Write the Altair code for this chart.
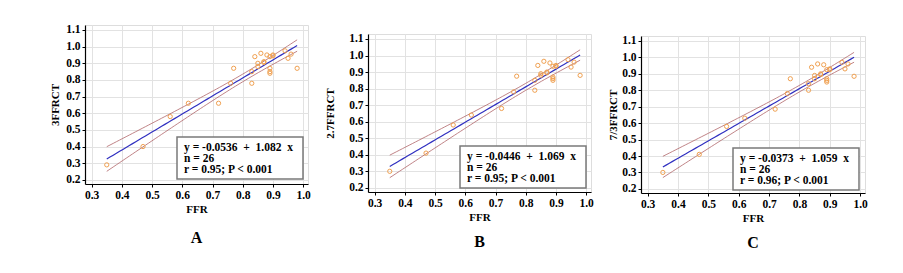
import altair as alt
import numpy as np
import pandas as pd

# ---------------- data ----------------
FFR = [0.35, 0.47, 0.56, 0.62, 0.72, 0.76, 0.77, 0.83, 0.83, 0.84, 0.85, 0.85, 0.86,
       0.87, 0.87, 0.88, 0.89, 0.89, 0.89, 0.89, 0.90, 0.90, 0.94, 0.95, 0.96, 0.98]
FFRCT_3 = [0.29, 0.40, 0.58, 0.66, 0.66, 0.78, 0.87, 0.78, 0.85, 0.94, 0.90, 0.88, 0.96,
           0.91, 0.905, 0.95, 0.94, 0.87, 0.85, 0.84, 0.95, 0.945, 0.975, 0.93, 0.955, 0.87]
FFRCT_27 = [0.30, 0.41, 0.58, 0.64, 0.68, 0.78, 0.875, 0.79, 0.85, 0.94, 0.89, 0.88, 0.965,
            0.90, 0.895, 0.955, 0.935, 0.87, 0.86, 0.85, 0.94, 0.935, 0.975, 0.93, 0.96, 0.88]
FFRCT_73 = [0.30, 0.41, 0.58, 0.63, 0.685, 0.78, 0.87, 0.80, 0.84, 0.94, 0.89, 0.87, 0.96,
            0.90, 0.895, 0.955, 0.925, 0.87, 0.86, 0.85, 0.93, 0.925, 0.97, 0.93, 0.96, 0.885]

Y_TITLES = ["3FFRCT", "2.7FFRCT", "7/3FFRCT"]
INTERCEPTS = [-0.0536, -0.0446, -0.0373]
SLOPES = [1.082, 1.069, 1.059]
EQ_LABELS = ["y = -0.0536\u00a0 +\u00a0 1.082\u00a0 x",
             "y = -0.0446\u00a0 +\u00a0 1.069\u00a0 x",
             "y = -0.0373\u00a0 +\u00a0 1.059\u00a0 x"]
N_LABELS = ["n = 26", "n = 26", "n = 26"]
R_LABELS = ["r = 0.95; P < 0.001", "r = 0.95; P < 0.001", "r = 0.96; P < 0.001"]
LETTERS = ["A", "B", "C"]
X_TITLE = "FFR"
X_TICKS = [0.3, 0.4, 0.5, 0.6, 0.7, 0.8, 0.9, 1.0]
Y_TICKS = [0.2, 0.3, 0.4, 0.5, 0.6, 0.7, 0.8, 0.9, 1.0, 1.1]
T_CRIT = 2.064  # t(0.975, 24)

SERIF = "Liberation Serif"
ORANGE = "#f0a050"
BLUE = "#3030c0"
CI_COLOR = "#b06468"


def panel(i, yvals, width, height, title_pad, letter_dy):
    x = np.array(FFR)
    y = np.array(yvals)
    a, b = INTERCEPTS[i], SLOPES[i]
    n = len(x)
    resid = y - (a + b * x)
    s = np.sqrt((resid ** 2).sum() / (n - 2))
    sxx = ((x - x.mean()) ** 2).sum()
    xs = np.linspace(x.min(), x.max(), 60)
    fit = a + b * xs
    half = T_CRIT * s * np.sqrt(1.0 / n + (xs - x.mean()) ** 2 / sxx)

    pts = pd.DataFrame({"FFR": x, "v": y})
    fit_df = pd.DataFrame({"FFR": xs, "v": fit})
    ci_df = pd.concat([
        pd.DataFrame({"FFR": xs, "v": fit + half, "band": "hi"}),
        pd.DataFrame({"FFR": xs, "v": fit - half, "band": "lo"}),
    ])
    one = pd.DataFrame({"k": [0]})

    xsc = alt.Scale(domain=[0.278, 1.016], nice=False, zero=False)
    ysc = alt.Scale(domain=[0.175, 1.13], nice=False, zero=False)
    xenc = alt.X("FFR:Q", scale=xsc,
                 axis=alt.Axis(values=X_TICKS, format=".1f", title=X_TITLE, titlePadding=3))
    yenc = alt.Y("v:Q", scale=ysc,
                 axis=alt.Axis(values=Y_TICKS, format=".1f", title=Y_TITLES[i],
                               titlePadding=title_pad))

    ci = alt.Chart(ci_df).mark_line(color=CI_COLOR, strokeWidth=0.8).encode(
        x=xenc, y=yenc, detail="band:N")
    line = alt.Chart(fit_df).mark_line(color=BLUE, strokeWidth=1.2).encode(x=xenc, y=yenc)
    dots = alt.Chart(pts).mark_point(shape="circle", filled=False, color=ORANGE,
                                     size=18, strokeWidth=1, opacity=1).encode(x=xenc, y=yenc)
    box = alt.Chart(one).mark_rect(fill="white", stroke="#7a7a7a", strokeWidth=1.5).encode(
        x=alt.value(92), x2=alt.value(218), y=alt.value(112), y2=alt.value(154))
    base_txt = dict(align="left", baseline="middle", font=SERIF, fontWeight="bold",
                    fontSize=11.5, color="black")
    t1 = alt.Chart(one).mark_text(**base_txt).encode(
        x=alt.value(99), y=alt.value(123), text=alt.value(EQ_LABELS[i]))
    t2 = alt.Chart(one).mark_text(**base_txt).encode(
        x=alt.value(99), y=alt.value(134), text=alt.value(N_LABELS[i]))
    t3 = alt.Chart(one).mark_text(**base_txt).encode(
        x=alt.value(99), y=alt.value(145), text=alt.value(R_LABELS[i]))
    letter = alt.Chart(one).mark_text(align="center", baseline="middle", font=SERIF,
                                      fontWeight="bold", fontSize=16, color="black").encode(
        x=alt.value(width / 2), y=alt.value(height + letter_dy), text=alt.value(LETTERS[i]))

    return alt.layer(ci, line, dots, box, t1, t2, t3, letter).properties(
        width=width, height=height)


def spacer():
    # invisible 1px-high block that pushes a panel a few pixels lower than panel A
    return alt.Chart(pd.DataFrame({"k": [0]})).mark_rule(opacity=0).encode(
        x=alt.value(0), y=alt.value(0), y2=alt.value(1)
    ).properties(width=1, height=1, view=alt.ViewBackground(strokeOpacity=0))


pA = panel(0, FFRCT_3, 223, 159, 5, 54)
pB = panel(1, FFRCT_27, 223, 158, 13, 50)
pC = panel(2, FFRCT_73, 224, 157, 3, 50)

colB = alt.vconcat(spacer(), pB, spacing=6)
colC = alt.vconcat(spacer(), pC, spacing=8)

chart = alt.hconcat(pA, colB, colC, spacing=13).properties(
    padding={"left": 41, "top": 15, "right": 0, "bottom": 0}
).configure_view(
    stroke="#dddddd", strokeWidth=1
).configure_axis(
    labelFont=SERIF, labelFontWeight="bold", labelFontSize=11.5, labelColor="black",
    titleFont=SERIF, titleFontWeight="bold", titleFontSize=11, titleColor="black",
    domainColor="black", domainWidth=1.2, tickColor="black", tickSize=3,
    gridColor="#e2e2e2", gridWidth=1, labelPadding=2
).configure_title(font=SERIF)

chart.save("out.html", embed_options={"renderer": "svg", "actions": False})
